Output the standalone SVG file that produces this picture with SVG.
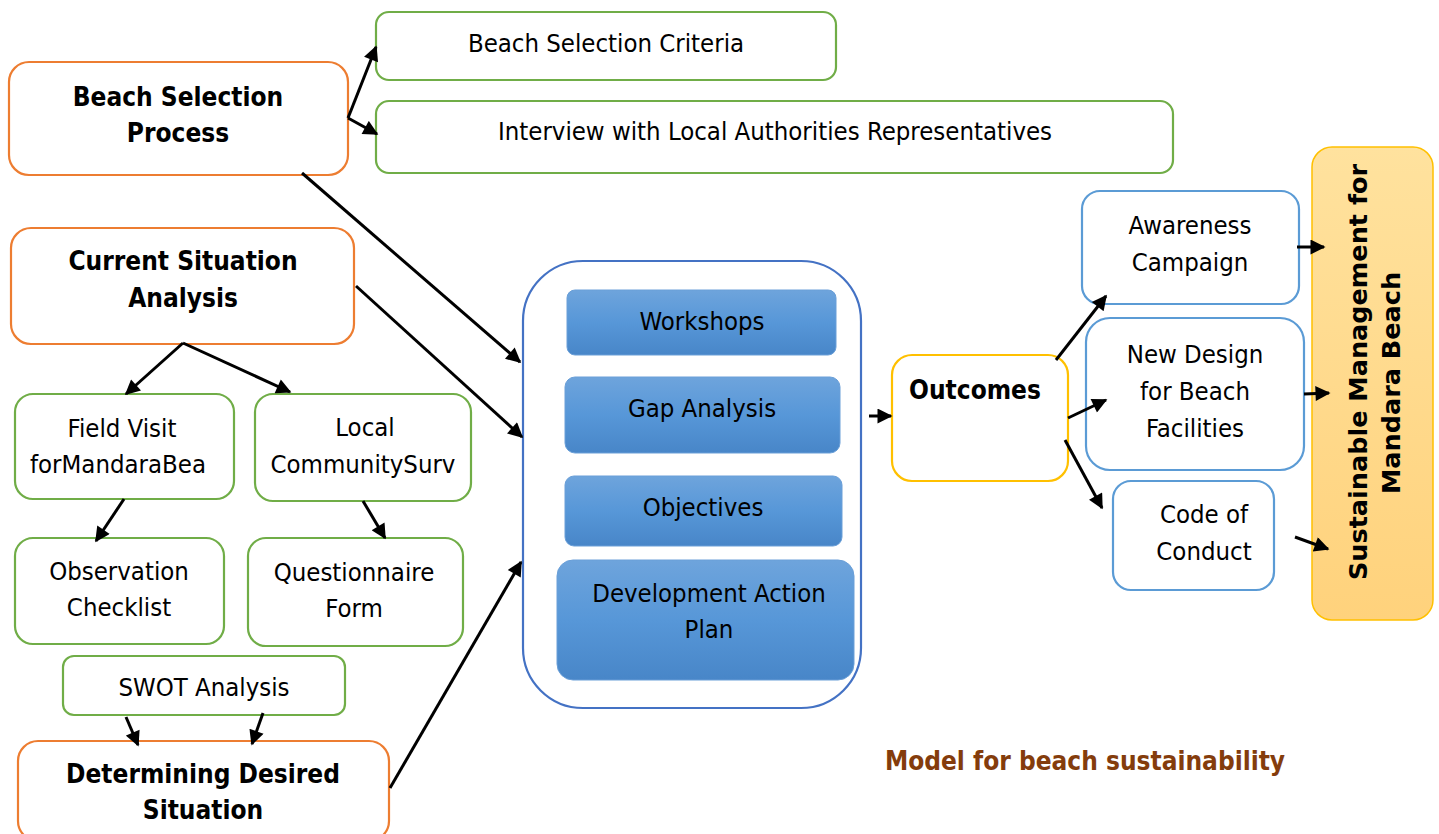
<svg xmlns="http://www.w3.org/2000/svg" width="1439" height="834" viewBox="0 0 1439 834">
<style>
text{font-family:"DejaVu Sans Condensed","DejaVu Sans",sans-serif;font-size:25.5px;fill:#000;text-anchor:middle}
.b{font-weight:bold;font-size:26px}
.or{fill:#fff;stroke:#ED7D31;stroke-width:2.2}
.gr{fill:#fff;stroke:#70AD47;stroke-width:2.2}
.bl{fill:#fff;stroke:#5B9BD5;stroke-width:2.2}
.yl{fill:#fff;stroke:#FFC000;stroke-width:2.2}
.bx{fill:url(#bg);stroke:#6A9FD8;stroke-width:1}
.cn line{stroke:#000;stroke-width:3;marker-end:url(#ah)}
</style>
<defs>
<linearGradient id="bg" x1="0" y1="0" x2="0" y2="1"><stop offset="0" stop-color="#6EA4DC"/><stop offset="0.5" stop-color="#5797D8"/><stop offset="1" stop-color="#4886C8"/></linearGradient>
<linearGradient id="yg" x1="0" y1="0" x2="0" y2="1"><stop offset="0" stop-color="#FFE29E"/><stop offset="1" stop-color="#FFD27C"/></linearGradient>
<marker id="ah" viewBox="0 0 10 10" refX="9" refY="5" markerWidth="5.5" markerHeight="5" orient="auto" markerUnits="strokeWidth"><path d="M0,0L10,5L0,10z" fill="#000"/></marker>
</defs>
<rect width="1439" height="834" fill="#fff"/>
<g id="n-bsp"><rect class="or" x="9" y="62" width="339" height="113" rx="20"/><text class="b" x="178" y="106">Beach Selection</text><text class="b" x="178" y="142">Process</text></g>
<g id="n-bsc"><rect class="gr" x="376" y="12" width="460" height="68" rx="13"/><text x="606" y="52">Beach Selection Criteria</text></g>
<g id="n-int"><rect class="gr" x="376" y="101" width="797" height="72" rx="13"/><text x="775" y="140">Interview with Local Authorities Representatives</text></g>
<g id="n-csa"><rect class="or" x="11" y="228" width="343" height="116" rx="20"/><text class="b" x="183" y="270">Current Situation</text><text class="b" x="183" y="307">Analysis</text></g>
<g id="n-fv"><rect class="gr" x="15" y="394" width="219" height="105" rx="18"/><text x="122" y="437">Field Visit</text><text x="118" y="473">forMandaraBea</text></g>
<g id="n-lc"><rect class="gr" x="255" y="394" width="216" height="107" rx="18"/><text x="365" y="436">Local</text><text x="363" y="473">CommunitySurv</text></g>
<g id="n-oc"><rect class="gr" x="15" y="538" width="209" height="106" rx="18"/><text x="119" y="580">Observation</text><text x="119" y="616">Checklist</text></g>
<g id="n-qf"><rect class="gr" x="248" y="538" width="215" height="108" rx="18"/><text x="354" y="581">Questionnaire</text><text x="354" y="617">Form</text></g>
<g id="n-swot"><rect class="gr" x="63" y="656" width="282" height="59" rx="11"/><text x="204" y="696">SWOT Analysis</text></g>
<g id="n-dds"><rect class="or" x="18" y="741" width="371" height="100" rx="20"/><text class="b" x="203" y="783">Determining Desired</text><text class="b" x="203" y="819">Situation</text></g>
<g id="n-core"><rect x="523" y="261" width="338" height="447" rx="60" fill="#fff" stroke="#4472C4" stroke-width="2.2"/>
<g id="n-ws"><rect class="bx" x="567" y="290" width="269" height="65" rx="8"/><text x="702" y="330">Workshops</text></g>
<g id="n-gap"><rect class="bx" x="565" y="377" width="275" height="76" rx="10"/><text x="702" y="417">Gap Analysis</text></g>
<g id="n-obj"><rect class="bx" x="565" y="476" width="277" height="70" rx="9"/><text x="703" y="516">Objectives</text></g>
<g id="n-dap"><rect class="bx" x="557" y="560" width="297" height="120" rx="16"/><text x="709" y="602">Development Action</text><text x="709" y="638">Plan</text></g>
</g>
<g id="n-out"><rect class="yl" x="892" y="355" width="176" height="126" rx="20"/><text class="b" x="975" y="399">Outcomes</text></g>
<g id="n-aw"><rect class="bl" x="1082" y="191" width="217" height="113" rx="18"/><text x="1190" y="234">Awareness</text><text x="1190" y="271">Campaign</text></g>
<g id="n-nd"><rect class="bl" x="1086" y="318" width="218" height="152" rx="24"/><text x="1195" y="363">New Design</text><text x="1195" y="400">for Beach</text><text x="1195" y="437">Facilities</text></g>
<g id="n-cc"><rect class="bl" x="1113" y="481" width="161" height="109" rx="18"/><text x="1204" y="523">Code of</text><text x="1204" y="560">Conduct</text></g>
<g id="n-sm"><rect x="1312" y="147" width="121" height="473" rx="20" fill="url(#yg)" stroke="#FFC000" stroke-width="1.5"/>
<g transform="translate(1372,377) rotate(-90)" style="font-family:'DejaVu Sans',sans-serif"><text class="b" x="5" y="-5" style="font-size:25.5px;font-family:'DejaVu Sans',sans-serif">Sustainable Management for</text><text class="b" x="-6" y="28" style="font-size:25.5px;font-family:'DejaVu Sans',sans-serif">Mandara Beach</text></g></g>
<g id="caption"><text class="b" x="1085" y="770" style="fill:#843C0C">Model for beach sustainability</text></g>
<g class="cn" id="connectors">
<line x1="348" y1="118" x2="376" y2="47"/>
<line x1="348" y1="118" x2="377" y2="134"/>
<line x1="302" y1="173" x2="520" y2="362"/>
<line x1="356" y1="286" x2="522" y2="437"/>
<line x1="183" y1="343" x2="126" y2="394"/>
<line x1="183" y1="343" x2="290" y2="392"/>
<line x1="124" y1="499" x2="96" y2="541"/>
<line x1="363" y1="501" x2="385" y2="538"/>
<line x1="126" y1="717" x2="138" y2="745"/>
<line x1="263" y1="713" x2="252" y2="744"/>
<line x1="390" y1="788" x2="521" y2="562"/>
<line x1="869" y1="416" x2="891" y2="416"/>
<line x1="1056" y1="360" x2="1106" y2="296"/>
<line x1="1068" y1="418" x2="1106" y2="400"/>
<line x1="1065" y1="440" x2="1102" y2="508"/>
<line x1="1297" y1="247" x2="1324" y2="247"/>
<line x1="1304" y1="394" x2="1329" y2="393"/>
<line x1="1295" y1="537" x2="1328" y2="549"/>
</g>
</svg>
